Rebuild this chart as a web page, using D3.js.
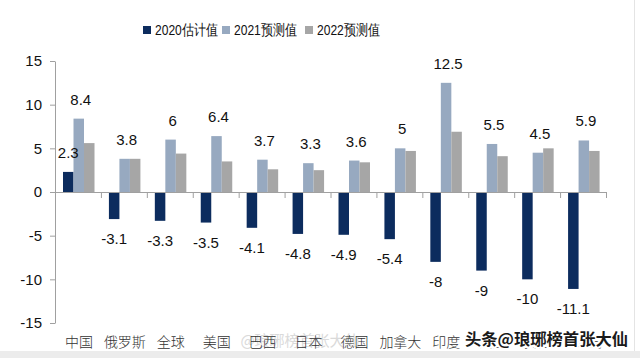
<!DOCTYPE html>
<html>
<head>
<meta charset="utf-8">
<script src="https://cdn.jsdelivr.net/npm/d3@7"></script>
<style>
	body { margin: 0; background: #fff; }
	svg { display: block; }
</style>
</head>
<body>
<div id="chart"></div>
<script>
// data
const categories = ["中国", "俄罗斯", "全球", "美国", "巴西", "日本", "德国", "加拿大", "印度", "法国", "英国", "西班牙"];
const est2020 = [2.3, -3.1, -3.3, -3.5, -4.1, -4.8, -4.9, -5.4, -8, -9, -10, -11.1];
const fc2021 = [8.4, 3.8, 6, 6.4, 3.7, 3.3, 3.6, 5, 12.5, 5.5, 4.5, 5.9];
const fc2022 = [5.6, 3.8, 4.4, 3.5, 2.6, 2.5, 3.4, 4.7, 6.9, 4.1, 5.0, 4.7];
const seriesNames = ["2020估计值", "2021预测值", "2022预测值"];
const yTicks = [-15, -10, -5, 0, 5, 10, 15];

const colors = ["#0c2c5e", "#97a9c0", "#a6a6a6"];
const W = 640, H = 358;
const svg = d3.select("#chart").append("svg").attr("width", W).attr("height", H);

// light frame bits
svg.append("rect").attr("x", 0).attr("y", 351).attr("width", W).attr("height", 7).attr("fill", "#ececec");
svg.append("line").attr("x1", 634.5).attr("x2", 634.5).attr("y1", 0).attr("y2", 351)
	.attr("stroke", "#e4e4e4");

const plotLeft = 55, plotRight = 606;
const x = d3.scaleBand().domain(categories).range([plotLeft, plotRight]);
const inner = d3.scaleBand().domain(seriesNames).range([8, 8 + 31.5]);
const y = d3.scaleLinear().domain([-15, 15]).range([323, 61]);
const fmt = (v) => String(v); // plain hyphen minus like the original

const rows = categories.map((c, i) => ({ cat: c, vals: [est2020[i], fc2021[i], fc2022[i]] }));

// bars
const groups = svg.selectAll(".grp").data(rows).enter().append("g")
	.attr("class", "grp")
	.attr("transform", (d) => "translate(" + x(d.cat) + ",0)");

groups.selectAll("rect")
	.data((d) => d.vals.map((v, k) => ({ v: v, k: k })))
	.enter().append("rect")
	.attr("x", (d) => inner(seriesNames[d.k]))
	.attr("width", inner.bandwidth())
	.attr("y", (d) => y(Math.max(0, d.v)))
	.attr("height", (d) => Math.abs(y(d.v) - y(0)))
	.attr("fill", (d) => colors[d.k]);

// y axis
const yAxis = svg.append("g")
	.attr("transform", "translate(" + plotLeft + ",0)")
	.call(d3.axisLeft(y).tickValues(yTicks).tickFormat(fmt).tickSize(5).tickPadding(8).tickSizeOuter(0));
yAxis.select(".domain").attr("stroke", "#a0a0a0");
yAxis.selectAll(".tick line").attr("stroke", "#a0a0a0");
yAxis.selectAll("text").attr("font-family", "Liberation Sans, Arial, sans-serif")
	.attr("font-size", 15).attr("fill", "#111");

// x axis line at zero with ticks between categories
svg.append("line").attr("x1", plotLeft).attr("x2", plotRight)
	.attr("y1", y(0) + 0.5).attr("y2", y(0) + 0.5).attr("stroke", "#a0a0a0");
svg.selectAll(".xtick").data(categories.slice(1).concat(["end"])).enter().append("line")
	.attr("class", "xtick")
	.attr("x1", (d) => (d === "end" ? plotRight : x(d)) + 0.5)
	.attr("x2", (d) => (d === "end" ? plotRight : x(d)) + 0.5)
	.attr("y1", y(0)).attr("y2", y(0) + 6)
	.attr("stroke", "#a0a0a0");

// faint weibo watermark sits behind the labels
svg.append("text").attr("x", 300).attr("y", 346).attr("text-anchor", "middle")
	.attr("font-family", "Noto Sans CJK SC, sans-serif").attr("font-size", 15)
	.attr("fill", "#dadada")
	.text("@琅琊榜首张大仙");

// category labels
svg.selectAll(".cat").data(categories).enter().append("text")
	.attr("class", "cat")
	.attr("x", (d) => x(d) + x.bandwidth() / 2 + 1)
	.attr("y", 347)
	.attr("text-anchor", "middle")
	.attr("font-family", "Noto Sans CJK SC, sans-serif")
	.attr("font-weight", 300)
	.attr("font-size", 14)
	.attr("fill", "#333")
	.text((d) => d);

// value labels: 2021 above, 2020 above or below
const lblFont = "Liberation Sans, Arial, sans-serif";
svg.selectAll(".l21").data(rows).enter().append("text")
	.attr("x", (d) => x(d.cat) + inner(seriesNames[1]) + inner.bandwidth() / 2 + 2)
	.attr("y", (d) => y(d.vals[1]) - 14)
	.attr("text-anchor", "middle")
	.attr("font-family", lblFont).attr("font-size", 15).attr("fill", "#111")
	.text((d) => fmt(d.vals[1]));

svg.selectAll(".l20").data(rows).enter().append("text")
	.attr("x", (d) => x(d.cat) + inner(seriesNames[0]) + inner.bandwidth() / 2)
	.attr("y", (d) => (d.vals[0] >= 0 ? y(d.vals[0]) - 14 : y(d.vals[0]) + 25))
	.attr("text-anchor", "middle")
	.attr("font-family", lblFont).attr("font-size", 15).attr("fill", "#111")
	.text((d) => fmt(d.vals[0]));

// legend
const legendX = [143, 222, 305];
const legend = svg.selectAll(".leg").data(seriesNames).enter().append("g")
	.attr("transform", (d, i) => "translate(" + legendX[i] + ",24)");
legend.append("rect").attr("width", 8).attr("height", 8).attr("y", 2)
	.attr("fill", (d, i) => colors[i]);
legend.append("text").attr("x", 12).attr("y", 11)
	.attr("font-family", lblFont).attr("font-size", 15).attr("fill", "#111")
	.attr("textLength", 63).attr("lengthAdjust", "spacingAndGlyphs")
	.text((d) => d);

// toutiao watermark over the last labels
svg.append("text").attr("x", 465).attr("y", 345)
	.attr("font-family", "Noto Sans CJK SC, sans-serif").attr("font-size", 16)
	.attr("font-weight", 700)
	.attr("textLength", 163).attr("lengthAdjust", "spacingAndGlyphs")
	.attr("fill", "#1a1a1a").attr("stroke", "#fff").attr("stroke-width", 4)
	.attr("paint-order", "stroke")
	.text("头条@琅琊榜首张大仙");
</script>
</body>
</html>
